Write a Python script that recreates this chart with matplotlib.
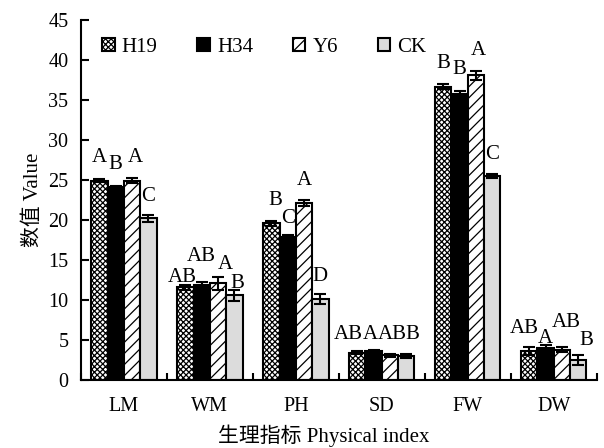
import numpy as np
import matplotlib.pyplot as plt

plt.rcParams['font.family'] = ['Liberation Serif', 'Noto Sans CJK SC']
plt.rcParams['hatch.linewidth'] = 0.9

# data
indices = ['LM', 'WM', 'PH', 'SD', 'FW', 'DW']
series = ['H19', 'H34', 'Y6', 'CK']
h19 = [24.9, 11.6, 19.6, 3.4, 36.7, 3.6]
h34 = [24.1, 11.9, 17.9, 3.6, 35.8, 4.0]
y6 = [24.9, 12.1, 22.1, 3.1, 38.1, 3.8]
ck = [20.2, 10.6, 10.1, 3.0, 25.5, 2.5]
h19_err = [0.2, 0.3, 0.3, 0.2, 0.3, 0.5]
h34_err = [0.2, 0.3, 0.2, 0.2, 0.4, 0.4]
y6_err = [0.3, 0.8, 0.4, 0.2, 0.6, 0.3]
ck_err = [0.4, 0.7, 0.6, 0.2, 0.3, 0.6]
h19_sig = ['A', 'AB', 'B', 'AB', 'B', 'AB']
h34_sig = ['B', 'AB', 'C', 'A', 'B', 'A']
y6_sig = ['A', 'A', 'A', 'AB', 'A', 'AB']
ck_sig = ['C', 'B', 'D', 'B', 'C', 'B']

# where the letters sit: height above the error bar (data units) and sideways nudge (px)
lift = [[2.15, 0.35, 2.0, 1.5, 2.0, 1.8],
        [2.1, 2.7, 1.5, 1.3, 2.05, 0.2],
        [2.05, 1.0, 1.9, 1.8, 1.9, 2.5],
        [1.8, 0.2, 1.7, 1.9, 1.85, 1.3]]
nudge = [[0, -3, 4, -9, 0, -5],
         [0, 0, 0, -3, 0, 0],
         [3, 7, 0, 2, 2, 4],
         [0, 3, 0, 6, 0, 8]]

values = [h19, h34, y6, ck]
errors = [h19_err, h34_err, y6_err, ck_err]
sigs = [h19_sig, h34_sig, y6_sig, ck_sig]
faces = ['white', 'black', 'white', '#dcdcdc']
hatches = ['xxxxxx', None, '///', None]

fig, ax = plt.subplots(figsize=(6.04, 4.48), dpi=100)
fig.subplots_adjust(left=0.134, right=0.988, bottom=0.152, top=0.955)

ind = np.arange(len(indices))
width = 0.19
for i in range(4):
    pos = ind + (i - 1.5) * width
    ax.bar(pos, values[i], width, color=faces[i], edgecolor='black', linewidth=1.5,
           hatch=hatches[i], label=series[i], zorder=2)
    ax.errorbar(pos, values[i], yerr=errors[i], fmt='none', ecolor='black',
                elinewidth=1.5, capsize=4, capthick=1.5, zorder=3)
    for j in range(len(indices)):
        ax.annotate(sigs[i][j], (pos[j], values[i][j] + errors[i][j] + lift[i][j]),
                    xytext=(nudge[i][j] * 0.72, 0), textcoords='offset points',
                    ha='center', va='baseline', fontsize=15)

ax.set_xlim(-0.5, len(indices) - 0.5)
ax.set_ylim(0, 45)
ax.set_yticks(np.arange(0, 46, 5))
ax.set_xticks(ind)
ax.set_xticklabels(indices)
ax.set_xticks(np.arange(-0.5, len(indices)), minor=True)
ax.tick_params(axis='x', which='major', length=0, labelsize=14.5, pad=12)
ax.tick_params(axis='x', which='minor', direction='in', length=5, width=1.5)
ax.tick_params(axis='y', direction='in', length=6, width=1.5, labelsize=14.5, pad=9)
for side in ['top', 'right']:
    ax.spines[side].set_visible(False)
for side in ['left', 'bottom']:
    ax.spines[side].set_linewidth(1.5)

ax.set_ylabel('数值 Value', fontsize=15, labelpad=4)
ax.set_xlabel('生理指标 Physical index', fontsize=15, labelpad=6)
ax.xaxis.set_label_coords(0.47, -0.125)

ax.legend(loc='center left', ncol=4, frameon=False, fontsize=15,
          handlelength=0.6, handleheight=0.6, columnspacing=1.9,
          handletextpad=0.35, borderpad=0, borderaxespad=0,
          bbox_to_anchor=(102 / 604, 1 - 47 / 448), bbox_transform=fig.transFigure)

plt.savefig('out.png', dpi=100)
